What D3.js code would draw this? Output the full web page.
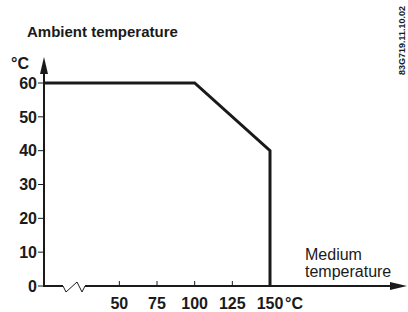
<!DOCTYPE html>
<html>
<head>
<meta charset="utf-8">
<script src="https://cdn.jsdelivr.net/npm/d3@7"></script>
<style>
  body { margin: 0; background: #fff; }
  svg { display: block; font-family: "Liberation Sans", Arial, sans-serif; }
</style>
</head>
<body>
<div id="chart"></div>
<script>
// Données du graphique
const yTicks = [0, 10, 20, 30, 40, 50, 60];
const xTicks = [50, 75, 100, 125, 150];
const mediumTemp = [0, 100, 150, 150];
const ambientTemp = [60, 60, 40, 0];

const width = 408, height = 312;
const svg = d3.select("#chart").append("svg")
    .attr("width", width)
    .attr("height", height);

// Échelles
const x = d3.scaleLinear().domain([0, 150]).range([44, 270]);
const y = d3.scaleLinear().domain([0, 60]).range([286, 83]);

const ink = "#1a1a1a";

// Axe Y avec flèche
svg.append("line")
    .attr("x1", x(0)).attr("x2", x(0))
    .attr("y1", y(0) + 1).attr("y2", 70)
    .attr("stroke", ink).attr("stroke-width", 2);
svg.append("path")
    .attr("d", `M${x(0)},57 L${x(0) - 4},74 L${x(0) + 4},74 Z`)
    .attr("fill", ink);

// Axe X avec coupure et flèche
svg.append("line")
    .attr("x1", x(0) - 1).attr("x2", 63)
    .attr("y1", y(0)).attr("y2", y(0))
    .attr("stroke", ink).attr("stroke-width", 2);
svg.append("path")
    .attr("d", `M63,${y(0)} L66,${y(0) + 6} L77,${y(0) - 4} L82,${y(0) + 6} L85,${y(0)}`)
    .attr("fill", "none").attr("stroke", ink).attr("stroke-width", 1);
svg.append("line")
    .attr("x1", 85).attr("x2", 395)
    .attr("y1", y(0)).attr("y2", y(0))
    .attr("stroke", ink).attr("stroke-width", 2);
svg.append("path")
    .attr("d", `M407,${y(0)} L390,${y(0) - 4} L390,${y(0) + 4} Z`)
    .attr("fill", ink);

// Graduations Y
yTicks.forEach(t => {
    svg.append("line")
        .attr("x1", x(0) - 6).attr("x2", x(0))
        .attr("y1", y(t)).attr("y2", y(t))
        .attr("stroke", ink).attr("stroke-width", 1);
    svg.append("text")
        .attr("x", 37).attr("y", y(t))
        .attr("dy", "0.36em")
        .attr("text-anchor", "end")
        .attr("font-size", "16px")
        .attr("font-weight", "bold")
        .attr("fill", ink)
        .text(t);
});

// Graduations X
xTicks.forEach(t => {
    svg.append("line")
        .attr("x1", x(t)).attr("x2", x(t))
        .attr("y1", y(0) - 5).attr("y2", y(0))
        .attr("stroke", ink).attr("stroke-width", 1);
    svg.append("text")
        .attr("x", x(t)).attr("y", 309)
        .attr("text-anchor", "middle")
        .attr("font-size", "16px")
        .attr("font-weight", "bold")
        .attr("fill", ink)
        .text(t);
});
svg.append("text")
    .attr("x", 285).attr("y", 309)
    .attr("font-size", "16px")
    .attr("font-weight", "bold")
    .attr("fill", ink)
    .text("°C");

// Courbe de déclassement
const line = d3.line()
    .x((d, i) => x(mediumTemp[i]))
    .y(d => y(d));
svg.append("path")
    .datum(ambientTemp)
    .attr("d", line)
    .attr("fill", "none")
    .attr("stroke", ink)
    .attr("stroke-width", 3)
    .attr("stroke-linejoin", "miter");

// Titres
svg.append("text")
    .attr("x", 27).attr("y", 37)
    .attr("font-size", "15px")
    .attr("font-weight", "bold")
    .attr("fill", ink)
    .text("Ambient temperature");
svg.append("text")
    .attr("x", 11).attr("y", 69)
    .attr("font-size", "16px")
    .attr("font-weight", "bold")
    .attr("fill", ink)
    .text("°C");
svg.append("text")
    .attr("x", 305).attr("y", 260)
    .attr("font-size", "16px")
    .attr("fill", ink)
    .text("Medium");
svg.append("text")
    .attr("x", 305).attr("y", 277)
    .attr("font-size", "16px")
    .attr("fill", ink)
    .text("temperature");

// Référence du dessin
svg.append("text")
    .attr("transform", "translate(405,75) rotate(-90)")
    .attr("font-size", "9px")
    .attr("font-weight", "bold")
    .attr("fill", ink)
    .text("83G719.11.10.02");
</script>
</body>
</html>
